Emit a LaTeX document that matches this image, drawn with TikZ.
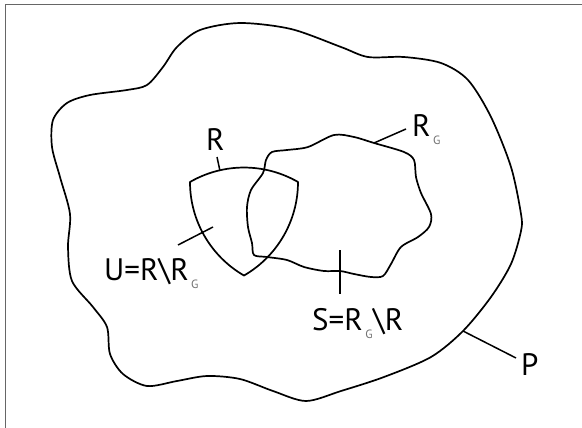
\documentclass[tikz,border=0pt]{standalone}
\usepackage{fontspec}
\setmainfont{PT Sans}
\usetikzlibrary{calc}
\newcommand{\lowsub}[1]{\hspace{2.5pt}\raisebox{-8pt}{\fontsize{12}{12}\selectfont\color{black!55}#1}\hspace{0.5pt}}

\begin{document}
\begin{tikzpicture}[
        x=1pt, y=-1pt,
        curve/.style={draw=black, line width=1.7pt, line join=round},
        tick/.style={draw=black, line width=1.5pt},
        txt/.style={inner sep=0pt, anchor=base west, font=\fontsize{31}{36}\selectfont}
    ]
    \useasboundingbox (0,0) rectangle (582,428);
    \draw[black!60, line width=1pt] (5,428) -- (5,5) -- (582,5);

    % region P
    \draw[curve] plot[smooth cycle] coordinates {
        (240,23) (291,29) (341,47) (368,57) (404,57) (441,63) (468,80)
        (491,117) (511,167) (521,214) (521,231) (511,264) (491,297) (463,331)
        (431,357) (384,377) (341,391) (306,401) (273,391) (240,379) (207,376)
        (177,381) (147,386) (123,374) (110,354) (107,327) (93,307) (72,281)
        (68,247) (70,214) (60,177) (52,147) (53,120) (67,103) (90,95)
        (127,90) (147,85) (163,67) (177,47) (200,30)};

    % region R_G
    \draw[curve] plot[smooth cycle] coordinates {
        (272,152) (287,150) (308,147) (334,135) (354,137) (374,143) (404,152)
        (414,160) (416,177) (421,193) (431,214) (429,227) (418,237) (401,247)
        (391,264) (383,276) (371,277) (354,274) (340,271) (324,271) (304,267)
        (287,260) (267,257) (254,255) (252,243) (248,227) (247,207) (251,190)
        (263,173) (266,160)};

    % region R
    \coordinate (A) at (190,182);
    \coordinate (B) at (298,182);
    \coordinate (C) at (244,275.5);
    \draw[curve] (A) arc[start angle=240, end angle=300, radius=108]
        arc[start angle=0, end angle=60, radius=108]
        arc[start angle=120, end angle=180, radius=108] -- cycle;

    \node[txt] (labelR) at (206,150) {R};
    \node[txt] (labelRG) at (412,137) {R\lowsub{G}};
    \node[txt] (labelU) at (104,280) {U=R\textbackslash R\lowsub{G}};
    \node[txt] (labelS) at (312,330) {S=R\lowsub{G}\textbackslash R};
    \node[txt] (labelP) at (521,375) {P};

    \coordinate (r-top) at (217,157);
    \coordinate (r-foot) at (220,171);
    \coordinate (rg-top) at (406,129);
    \coordinate (rg-foot) at (374,143);
    \coordinate (u-end) at (178,245);
    \coordinate (u-foot) at (213,227);
    \coordinate (s-top) at (340,250);
    \coordinate (s-end) at (340,294);
    \coordinate (p-foot) at (463,331);
    \coordinate (p-end) at (516,358);

    \draw[tick] (r-top) -- (r-foot);
    \draw[tick] (rg-foot) -- (rg-top);
    \draw[tick] (u-end) -- (u-foot);
    \draw[tick] (s-top) -- (s-end);
    \draw[tick] (p-foot) -- (p-end);
\end{tikzpicture}
\end{document}
